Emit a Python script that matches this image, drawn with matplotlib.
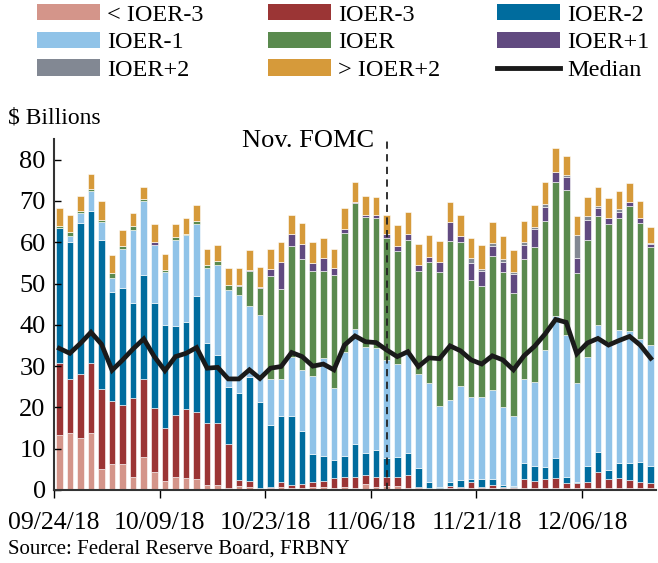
import numpy as np
import matplotlib
matplotlib.use("Agg")
import matplotlib.pyplot as plt
from matplotlib.patches import Patch
from matplotlib.lines import Line2D

plt.rcParams['font.family'] = ['Liberation Serif', 'DejaVu Serif']

# daily volumes by rate bucket, $ billions (business days 09/24/18 - 12/14/18)
lt_ioer3 = [13.2, 13.8, 12.7, 13.8, 5.1, 6.4, 6.2, 3.2, 7.9, 4.4,
            2.3, 3.1, 2.9, 2.7, 1.2, 1.2, 0.4, 1.0, 0.8, 0.4,
            0.4, 0.8, 0.4, 0.4, 0.8, 0.8, 0.6, 0.8, 0.6, 1.4,
            0.8, 1.0, 1.0, 0.4, 0.4, 0.4, 0.2, 0.4, 0.4, 0.4,
            0.4, 0.6, 0.4, 0.4, 0.6, 0.4, 0.4, 0.6, 0.6, 0.4,
            0.4, 0.4, 0.4, 0.6, 0.4, 0.4, 0.4]
ioer_m3 = [17.5, 13.1, 15.5, 16.9, 19.3, 15.2, 14.5, 19.2, 19.1, 15.4,
           12.7, 15.1, 16.6, 16.3, 15.1, 15.1, 10.7, 1.4, 1.5, 0.2,
           0.4, 1.1, 0.8, 1.1, 1.2, 1.4, 2.2, 2.4, 2.6, 2.2,
           2.4, 2.1, 2.2, 3.2, 0.4, 0.2, 0.4, 0.6, 0.4, 1.5,
           0.4, 0.6, 0.4, 0.4, 2.0, 1.9, 2.2, 2.4, 1.2, 1.2,
           1.5, 4.0, 2.3, 2.4, 2.0, 1.6, 1.2]
ioer_m2 = [32.7, 33.2, 36.5, 36.9, 36.1, 26.4, 28.3, 22.8, 25.1, 25.5,
           25.0, 21.5, 21.1, 28.1, 19.2, 16.4, 13.9, 21.2, 25.1, 20.8,
           14.9, 15.9, 16.7, 12.8, 6.6, 6.1, 4.5, 5.0, 7.9, 5.4,
           6.6, 4.7, 4.9, 5.3, 4.6, 1.4, 0.2, 1.0, 1.6, 0.8,
           1.9, 1.5, 0.4, 0.2, 3.9, 3.6, 3.0, 4.8, 1.4, 0.4,
           4.0, 4.9, 2.1, 3.5, 4.2, 4.9, 4.3]
ioer_m1 = [0.0, 1.4, 2.5, 4.9, 4.4, 3.4, 9.3, 17.8, 18.0, 14.0,
           12.9, 20.9, 21.1, 17.3, 18.3, 21.8, 23.4, 23.6, 17.2, 21.0,
           11.2, 9.1, 14.2, 14.8, 19.1, 23.6, 17.3, 25.3, 28.0, 25.7,
           24.5, 23.7, 22.4, 24.6, 22.8, 23.8, 19.6, 19.8, 22.8, 19.9,
           19.9, 21.5, 19.0, 17.0, 20.4, 20.3, 28.3, 34.4, 34.3, 24.0,
           26.4, 30.7, 31.1, 32.2, 32.0, 29.7, 29.2]
ioer = [0.5, 0.9, 0.4, 0.3, 0.4, 1.2, 0.9, 1.0, 0.3, 0.0,
        0.4, 0.6, 0.4, 0.7, 0.7, 0.9, 1.2, 2.3, 8.5, 6.4,
        25.0, 21.8, 27.0, 26.8, 25.3, 21.1, 27.5, 28.8, 30.3, 31.5,
        31.5, 29.6, 27.4, 27.0, 24.8, 29.5, 32.3, 38.5, 34.8, 28.2,
        26.9, 32.5, 32.7, 29.6, 29.0, 32.6, 31.2, 32.5, 35.1, 26.5,
        28.2, 26.3, 28.4, 27.2, 30.2, 28.1, 23.7]
ioer_p1 = [0, 0, 0, 0, 0, 0, 0, 0, 0, 0.8,
           0, 0, 0, 0, 0, 0, 0, 0.2, 0.2, 0.4,
           1.5, 6.4, 2.9, 3.7, 1.9, 3.3, 1.6, 0.9, 0.4, 0.5,
           0.9, 0.9, 1.2, 1.6, 1.6, 1.2, 2.6, 4.5, 1.6, 4.1,
           3.5, 2.4, 2.4, 4.6, 3.4, 4.3, 3.5, 2.4, 3.1, 3.8,
           5.0, 2.1, 1.6, 1.5, 1.0, 1.1, 0.8]
ioer_p2 = [0, 0, 0, 0, 0, 0, 0, 0, 0, 0,
           0, 0, 0, 0, 0, 0, 0, 0, 0, 0,
           0, 0, 0, 0, 0, 0, 0, 0, 0, 0,
           0, 0, 0, 0, 0, 0, 0, 0, 0, 1.2,
           0.5, 0.6, 0.6, 0.7, 0.8, 0.7, 0.6, 0, 0.5, 5.4,
           0.8, 0.4, 0, 0.6, 0, 0, 0.3]
gt_ioer2 = [4.5, 4.2, 3.7, 3.7, 4.6, 4.3, 3.8, 3.2, 3.0, 4.2,
            3.8, 3.3, 3.8, 4.0, 3.8, 3.9, 4.2, 4.1, 4.7, 4.8,
            5.0, 5.0, 4.5, 5.1, 5.2, 4.8, 4.6, 5.2, 4.9, 4.5,
            4.3, 4.7, 5.1, 5.3, 5.0, 5.2, 5.0, 5.0, 5.1, 5.0,
            5.8, 5.3, 5.7, 5.2, 5.1, 5.2, 5.5, 5.6, 4.7, 4.6,
            4.7, 4.5, 4.7, 4.5, 4.6, 4.2, 3.7]
median = [34.3, 33.1, 35.5, 38.2, 35.3, 29.0, 31.5, 34.2, 36.6, 32.3,
          28.9, 32.3, 33.1, 34.5, 29.5, 29.7, 26.9, 26.9, 29.1, 27.0,
          29.5, 29.9, 33.3, 32.3, 30.0, 30.5, 29.1, 35.1, 37.3, 35.9,
          35.7, 33.9, 32.3, 33.5, 29.9, 32.0, 31.8, 34.9, 33.7, 31.5,
          30.5, 32.5, 31.5, 29.1, 32.5, 34.8, 37.8, 41.3, 40.6, 33.0,
          35.6, 36.7, 35.1, 36.2, 37.2, 35.1, 31.9]

tick_labels = ['09/24/18', '10/09/18', '10/23/18', '11/06/18', '11/21/18', '12/06/18']
fomc_day = 31

series = [lt_ioer3, ioer_m3, ioer_m2, ioer_m1, ioer, ioer_p1, ioer_p2, gt_ioer2]
names = ['< IOER-3', 'IOER-3', 'IOER-2', 'IOER-1', 'IOER', 'IOER+1', 'IOER+2', '> IOER+2']
colors = ['#d4958a', '#9b3535', '#006c9e', '#90c3e8', '#5a8a4e', '#614a80', '#828893', '#d69a3a']

fig = plt.figure(figsize=(6.58, 5.63), dpi=100)
ax = fig.add_axes([54 / 658, 1 - 490 / 563, 602 / 658, 351 / 563])

x = np.arange(len(median))
bottom = np.zeros(len(x))
for vals, c in zip(series, colors):
    vals = np.array(vals, dtype=float)
    ax.bar(x, vals, bottom=bottom, width=0.62, color=c, edgecolor='white', linewidth=0.4)
    bottom += vals

ax.plot(x, median, color='#1a1a1a', linewidth=3.4, solid_joinstyle='miter')

ax.axvline(fomc_day, color='#222222', linestyle=(0, (4, 3)), linewidth=1.3)
ax.text(fomc_day - 1.2, 84.5, 'Nov. FOMC', ha='right', va='center', fontsize=19)

ax.set_xlim(-0.5, len(x) - 0.5)
ax.set_ylim(0, 85)
ax.set_yticks(range(0, 81, 10))
ax.set_xticks(np.arange(0, len(x), 10) - 0.5)
ax.set_xticklabels(tick_labels)
ax.tick_params(axis='y', direction='in', length=5, width=1, labelsize=19, pad=6)
ax.tick_params(axis='x', direction='out', length=6, width=1, labelsize=18.5, pad=10)
for s in ['top', 'right']:
    ax.spines[s].set_visible(False)
for s in ['left', 'bottom']:
    ax.spines[s].set_linewidth(1.5)
    ax.spines[s].set_color('#333333')

fig.text(8 / 658, 1 - 118 / 563, '$ Billions', ha='left', va='center', fontsize=17)
fig.text(8 / 658, 1 - 549 / 563, 'Source: Federal Reserve Board, FRBNY', ha='left', va='center', fontsize=15)

# legend in three fixed columns
handles = [Patch(facecolor=c) for c in colors] + [Line2D([], [], color='#1a1a1a', linewidth=3.5)]
labels = names + ['Median']
col_x = [37, 268, 497]
for k in range(3):
    idx = [k, k + 3, k + 6]
    fig.legend([handles[i] for i in idx], [labels[i] for i in idx],
               loc='upper left', bbox_to_anchor=(col_x[k] / 658, 1 - 4 / 563),
               frameon=False, fontsize=17.5, handlelength=2.6, handleheight=0.65,
               handletextpad=0.3, labelspacing=0.25, borderpad=0, borderaxespad=0)

fig.savefig('out.png', dpi=100)
